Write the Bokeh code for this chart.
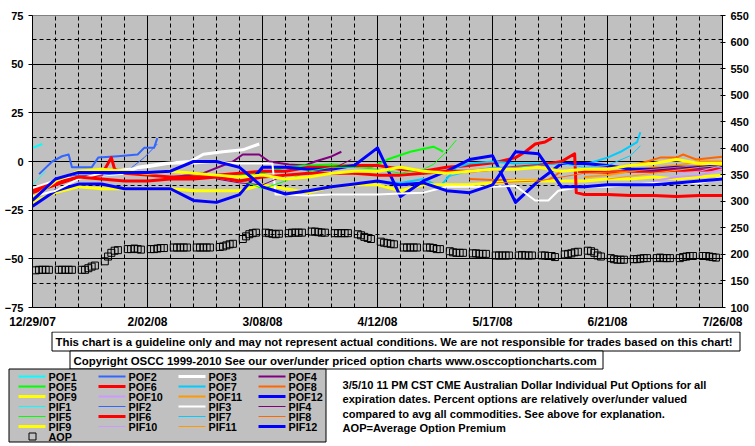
import numpy as np
from bokeh.plotting import figure
from bokeh.models import Range1d, LinearAxis, FixedTicker
from bokeh.layouts import column
from bokeh.core.properties import value
from bokeh.embed import file_html
from bokeh.resources import INLINE

FONT = "Liberation Sans"

# ---------------- data ----------------
x_tick_days = [0, 35, 70, 105, 140, 175, 210]
x_tick_labels = ["12/29/07", "2/02/08", "3/08/08", "4/12/08", "5/17/08", "6/21/08", "7/26/08"]
left_ticks = [-75, -50, -25, 0, 25, 50, 75]
right_ticks = [100, 150, 200, 250, 300, 350, 400, 450, 500, 550, 600, 650]
weeks = [0, 7, 14, 21, 28, 35, 42, 49, 56, 63, 70, 77, 84, 91, 98, 105, 112, 119, 126,
         133, 140, 147, 154, 161, 168, 175, 182, 189, 196, 203, 210]

pof1_d = [0, 3]
pof1_v = [7, 9]
pof2_d = [2, 6, 9, 11, 12, 18, 20, 26, 32, 34, 37, 38]
pof2_v = [-6.5, 0, 2.7, 3.6, -3, -3, 2, 2.7, 3.6, 7, 7, 12]
pof3_d = [0, 7, 14, 21, 28, 32, 40, 48, 52, 58, 64, 69]
pof3_v = [-14, -10, -8, -7, -6, -3, -1, 0, 3.7, 5, 6, 9]
pof4_d = [43, 52, 61, 64, 69, 72, 78, 83, 86, 91, 94]
pof4_v = [-8, -6, 0, 3.6, 3.6, 0, -1.5, -2, 0, 2.6, 5]
pof5_d = [56, 63, 70, 77, 84, 91, 98, 103, 108, 115, 122, 124, 125]
pof5_v = [-8, -7, -6, -3, -2, -1.5, -2, -3, 1, 5, 7.6, 6, 5]
pof6_d = [0, 7, 14, 21, 24, 25, 28, 35, 42, 49, 56, 63, 70, 77, 84, 91, 98, 105, 112, 119,
          126, 133, 141, 147, 150, 153, 156, 158, 162, 166, 175, 182, 189, 196, 203, 210]
pof6_v = [-16, -12, -8, -7, 2, -4, -6, -7, -8, -8, -7, -6, -5, -5, -3, -3, -2, -2, -4, -5,
          -3, -2, -0.5, 2, 5, 9, 10, 12, None, -5, -5.5, -5, -5, -4.5, -4.5, -4]
pof7_d = [104, 112, 119, 124, 129, 133, 140, 147, 154, 161, 168, 175, 179, 184, 185]
pof7_v = [-10, -11, -9, -13, -3, -1, 0, -1, -1, -1, -1.5, 2, 5, 10, 15]
pof8_d = [133, 140, 147, 157, 161, 168, 175, 182, 186, 191, 196, 198, 202, 210]
pof8_v = [-9, -9.5, -9.5, -9.5, -5, -4, -3.5, -2.5, -0.5, 2, 2, 3.6, 1, 2.5]
pof9_v = [-21, -16, -13, -14, -14, -14, -14, -15, -15, -15, -12, -14, -16, -13, -12, -12,
          -15, -12, -12, -12, -11, -10, -10, -10, -10, -9, -9, -8, -9, -8, -7]
pof10_d = [189, 196, 203, 210]
pof10_v = [-10, -8, -7, -4]
pof11_d = [168, 175, 182, 189, 196, 203, 210]
pof11_v = [-8, -7, -5, -3, -2, 0, 0]
pof12_v = [-23, -15, -11.6, -11.6, -14, -14, -14, -20, -21, -17, -3, -3, -4, -4, -2, 7,
           -18, -10, -5, 1, 3, -21, -10, -1, -1, -2, -4, -4, -3, -3, -2]

pif1_d = [0, 4]
pif1_v = [-12, -5]
pif2_d = [0, 4, 9, 14, 21, 28, 31, 34, 38]
pif2_v = [-20, -13, -8, -7, -7, -6, -2, 2, 9]
pif3_d = [0, 7, 14, 21, 28, 35, 42, 49, 56, 63, 70, 73, 74, 77, 84, 91, 98, 105, 112, 119,
          126, 133, 140, 147, 153, 157, 160, 167, 175, 182, 189, 196, 203, 210]
pif3_v = [-18, -15, -9, -6, -4, -3, -1, -1, 0, -1, -1, -1, -17, -17, -17.5, -17, -17, -17,
          -16.5, -16, -13, -13, -13, -12.5, -20, -20, -15, -13, -13, -12, -11, -11, -11, -8]
pif4_d = [56, 63, 70, 77, 84, 91, 97]
pif4_v = [-9, -11, -12, -7, -6, -4, 1]
pif5_d = [63, 70, 77, 84, 91, 98, 105, 112, 119, 122, 126, 129]
pif5_v = [-9, -14, -10, -5, -3, -3, -4, -6, -4, -1.5, 5, 11]
pif6_d = [0, 7, 14, 21, 28, 35, 42, 49, 56, 63, 70, 77, 84, 91, 98, 105, 112, 119, 126, 133,
          140, 147, 154, 161, 165, 165.5, 168, 175, 182, 189, 196, 203, 210]
pif6_v = [-15, -11, -8, -9, -10, -10, -9, -9, -8, -10, -8, -7, -6, -6, -6, -7, -7, -6, -5, -5,
          -4, -3, -2, 0, 4, -16, -17, -17, -17.5, -17.5, -18, -17.5, -17.5]
pif7_d = [126, 133, 140, 147, 154, 161, 168, 175, 182, 185]
pif7_v = [-8, -5, -3, -3, -2, -1, -3, -2, 3, 8]
pif8_d = [140, 154, 168, 182, 196, 210]
pif8_v = [-11, -10, -6, -5, -3, -1]
pif9_v = [-19, -10, -5, -4, -5, -6, -5, -6, -7, -8, -7, -9, -8, -6, -5, -5, -3, -5, -6, -5,
          -4, -4, -3, -5, -4, -4, -2, -1, 1, -1, -1]
pif10_d = [196, 203, 210]
pif10_v = [-6, -5, -2]
pif11_d = [175, 189, 203, 210]
pif11_v = [-9, -6, -3, -2]
pif12_v = [-20, -9, -5.6, -5.6, -5.6, -5.6, -5, 0, 0, -3, -13, -16.7, -15, -13, -11.6, -10,
           -12, -11, -15, -16, -12, 5, 4, -13, -13, -12, -12, -12, -11, -10, -9]

# Average Option Premium, one value per trading day (5 per week)
aop = [170, 171, 171, 171, 171, 171, 171, 171, 171, 171, 171, 171, 174, 177, 179,
       187, 196, 203, 207, 208, 210, 210, 211, 210, 209, 210, 210, 211, 212, 212,
       213, 213, 213, 213, 213, 213, 213, 213, 213, 213, 214, 215, 217, 219, 220,
       229, 234, 238, 240, 241, 241, 240, 239, 238, 239, 240, 241, 241, 241, 241,
       243, 243, 242, 241, 241, 240, 240, 240, 240, 240, 238, 236, 233, 231, 229,
       224, 222, 221, 220, 219, 213, 213, 213, 213, 213, 213, 213, 212, 210, 210,
       206, 204, 203, 203, 203, 202, 202, 201, 201, 201, 198, 198, 198, 198, 198,
       198, 199, 198, 198, 198, 198, 198, 197, 197, 195, 200, 201, 202, 204, 205,
       207, 206, 203, 198, 196, 193, 191, 190, 190, 190, 191, 191, 192, 193, 193,
       193, 194, 193, 193, 193, 193, 195, 196, 197, 197, 197, 197, 196, 195, 194]
aop_days = [1 + 7 * (j // 5) + (j % 5) for j in range(len(aop))]

series = [
    ("POF1", pof1_d, pof1_v, "#00FFFF", 2),
    ("POF2", pof2_d, pof2_v, "#3366FF", 2),
    ("POF3", pof3_d, pof3_v, "#FFFFFF", 3),
    ("POF4", pof4_d, pof4_v, "#800080", 2),
    ("POF5", pof5_d, pof5_v, "#00FF00", 2),
    ("POF6", pof6_d, pof6_v, "#FF0000", 3),
    ("POF7", pof7_d, pof7_v, "#00CCFF", 2),
    ("POF8", pof8_d, pof8_v, "#FF6600", 2),
    ("POF9", weeks, pof9_v, "#FFFF00", 3),
    ("POF10", pof10_d, pof10_v, "#CC99FF", 2),
    ("POF11", pof11_d, pof11_v, "#FF9900", 2),
    ("POF12", weeks, pof12_v, "#0000FF", 3),
    ("PIF1", pif1_d, pif1_v, "#00FFFF", 1),
    ("PIF2", pif2_d, pif2_v, "#3366FF", 1),
    ("PIF3", pif3_d, pif3_v, "#FFFFFF", 2),
    ("PIF4", pif4_d, pif4_v, "#800080", 1),
    ("PIF5", pif5_d, pif5_v, "#00FF00", 1),
    ("PIF6", pif6_d, pif6_v, "#FF0000", 3),
    ("PIF7", pif7_d, pif7_v, "#00CCFF", 1),
    ("PIF8", pif8_d, pif8_v, "#FF6600", 1),
    ("PIF9", weeks, pif9_v, "#FFFF00", 3),
    ("PIF10", pif10_d, pif10_v, "#CC99FF", 1),
    ("PIF11", pif11_d, pif11_v, "#FF9900", 1),
    ("PIF12", weeks, pif12_v, "#0000FF", 3),
]

# ---------------- main chart ----------------
p = figure(width=755, height=331, x_range=Range1d(0, 210), y_range=Range1d(-75, 75),
           output_backend="svg", toolbar_location=None,
           min_border_left=32, min_border_right=33, min_border_top=15, min_border_bottom=23)
p.frame_align = False
p.background_fill_color = "#C0C0C0"
p.border_fill_color = "white"
p.outline_line_color = "#808080"
p.extra_y_ranges = {"aop": Range1d(100, 650)}

minor_days = [d for d in range(7, 210, 7) if d % 35]
p.xgrid.ticker = FixedTicker(ticks=[35, 70, 105, 140, 175], minor_ticks=minor_days)
p.xgrid.grid_line_color = "black"
p.xgrid.grid_line_width = 1
p.xgrid.minor_grid_line_color = "black"
p.xgrid.minor_grid_line_dash = "4 3"
p.ygrid.ticker = FixedTicker(ticks=[-50, -25, 0, 25, 50],
                             minor_ticks=[-62.5, -37.5, -12.5, 12.5, 37.5, 62.5])
p.ygrid.grid_line_color = "black"
p.ygrid.grid_line_width = 1
p.ygrid.minor_grid_line_color = "black"
p.ygrid.minor_grid_line_dash = "4 3"

for ax in (p.xaxis[0], p.yaxis[0]):
    ax.axis_line_color = "black"
    ax.major_tick_line_color = "black"
    ax.minor_tick_line_color = None
    ax.major_label_text_font = FONT
    ax.major_label_text_font_style = "bold"
    ax.major_label_text_color = "black"

p.xaxis.ticker = FixedTicker(ticks=x_tick_days)
p.xaxis.major_label_overrides = dict(zip(x_tick_days, x_tick_labels))
p.xaxis.major_tick_out = 0
p.xaxis.major_tick_in = 0
p.xaxis.major_label_standoff = 7
p.xaxis.major_label_text_font_size = "12px"

p.yaxis.ticker = FixedTicker(ticks=left_ticks)
p.yaxis.major_tick_out = 4
p.yaxis.major_tick_in = 0
p.yaxis.major_label_standoff = 5
p.yaxis.major_label_text_font_size = "11px"

raxis = LinearAxis(y_range_name="aop", ticker=FixedTicker(ticks=right_ticks))
raxis.axis_line_color = "black"
raxis.major_tick_line_color = "black"
raxis.minor_tick_line_color = None
raxis.major_tick_out = 3
raxis.major_tick_in = 2
raxis.major_label_standoff = 5
raxis.major_label_text_font = FONT
raxis.major_label_text_font_style = "bold"
raxis.major_label_text_font_size = "11px"
raxis.major_label_text_color = "black"
p.add_layout(raxis, "right")

for name, d, v, col, w in series:
    p.line(np.array(d, dtype=float), np.array(v, dtype=float), line_color=col,
           line_width=w, line_join="round")

p.scatter(aop_days, aop, y_range_name="aop", marker="square", size=7,
          fill_color=None, line_color="black", line_width=1)

# ---------------- notes and legend ----------------
q = figure(width=755, height=115, x_range=Range1d(0, 755), y_range=Range1d(446, 331),
           output_backend="svg", toolbar_location=None, x_axis_type=None, y_axis_type=None,
           min_border=0)
q.frame_align = False
q.outline_line_color = None
q.background_fill_color = "white"
q.border_fill_color = "white"

q.quad(left=[51.5, 69.5, 8.5], right=[739.5, 602.5, 325.5], top=[331.5, 350.5, 368.5],
       bottom=[350.5, 368.5, 441.5], fill_color=["white", "white", "#C0C0C0"],
       line_color="black", line_width=1)

txt = dict(text_font=value(FONT), text_font_style="bold", text_color="black",
           text_baseline="middle", text_align="left")
q.text(x=[55], y=[341.5],
       text=["This chart is a guideline only and may not represent actual conditions. "
             "We are not responsible for trades based on this chart!"],
       text_font_size="11.4px", **txt)
q.text(x=[73], y=[360],
       text=["Copyright OSCC 1999-2010 See our over/under priced option charts "
             "www.osccoptioncharts.com"],
       text_font_size="11.45px", **txt)

desc = ["3/5/10 11 PM CST CME Australian Dollar Individual Put Options for all",
        "expiration dates. Percent options are relatively over/under valued",
        "compared to avg all commodities. See above for explanation.",
        "AOP=Average Option Premium"]
q.text(x=[342] * 4, y=[384, 398.5, 413, 427.5], text=desc, text_font_size="11.1px", **txt)

for i, (name, d, v, col, w) in enumerate(series):
    c, r = i % 4, i // 4
    yy = 376 + 10 * r
    q.segment(x0=[18 + 80 * c], y0=[yy], x1=[45 + 80 * c], y1=[yy], line_color=col,
              line_width=w)
    q.text(x=[48 + 80 * c], y=[yy + 0.5], text=[name], text_font_size="10.8px", **txt)
q.scatter([32], [436], marker="square", size=7, fill_color=None, line_color="black")
q.text(x=[48], y=[436.5], text=["AOP"], text_font_size="10.8px", **txt)

layout = column(p, q, spacing=0)
open("out.html", "w").write(file_html(layout, INLINE, title="AD put options"))
